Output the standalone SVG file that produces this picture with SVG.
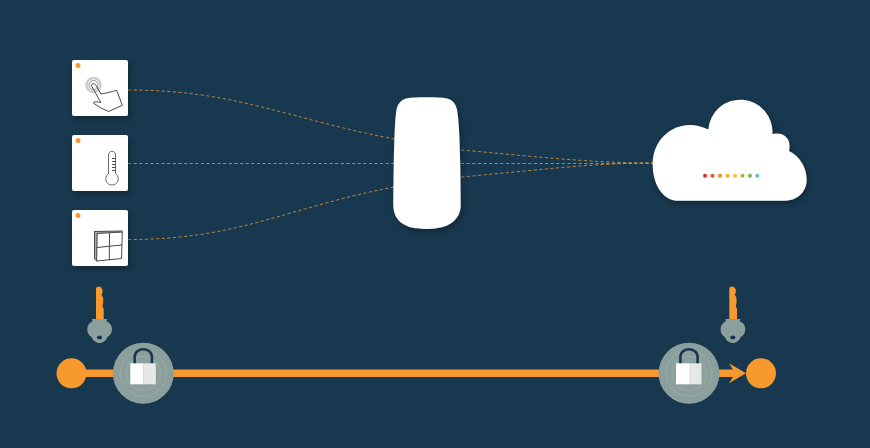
<svg xmlns="http://www.w3.org/2000/svg" width="870" height="448" viewBox="0 0 870 448">
<style>
.card{fill:#fff;filter:url(#sh)}
.dot{fill:#f7992d}
.ico{fill:none;stroke:#4a4a4a;stroke-width:1;stroke-linejoin:round;stroke-linecap:round}
.link{fill:none;stroke:#d08f3e;stroke-width:1;stroke-dasharray:3.2 2.4;stroke-opacity:.85}
.disc{fill:#8b9f9d}
.ring{fill:none;stroke:#9fb0ae;stroke-width:1;stroke-opacity:.7}
.shackle{fill:none;stroke:#18384f;stroke-width:2.6}
.keyb{fill:#f7992d}
</style>
<defs>
<filter id="sh" x="-20%" y="-20%" width="150%" height="150%"><feDropShadow dx="2" dy="3" stdDeviation="3" flood-color="#000" flood-opacity=".3"/></filter>
<g id="lock">
<circle class="disc" r="30.5"/>
<circle class="ring" r="23"/>
<circle class="ring" r="17"/>
<path class="shackle" d="M-8.600 -9V-16.500C-8.600 -26.500 8.600 -26.500 8.600 -16.500V-9"/>
<rect x="-13" y="-10" width="13" height="21" fill="#fff"/>
<rect x="0" y="-10" width="12.500" height="21" fill="#e6e8e8"/>
</g>
<g id="key">
<path class="keyb" d="M96 320V288.500Q96 286.700 98 286.700H100.500L102.500 289.500V292.500L101.500 294.500L103.200 298V303L102.500 306L103.700 309V320Z"/>
<path class="disc" d="M92 319H107L106.500 321.500C110 322.500 112 325.500 112 329.500C112 333 110 335.500 107.500 337C106 340.500 103 343 99.500 343C96 343 93 340.500 91.500 337C89 335.500 87.300 333 87.300 329.500C87.300 325.500 89.500 322.500 92.500 321.500Z"/>
<ellipse cx="99.500" cy="337.500" rx="2.600" ry="2" fill="#18384f"/>
</g>
</defs>
<rect width="870" height="448" fill="#18384f"/>
<g id="connectors">
<path class="link" d="M128 90C235 90 285 118 394 139"/>
<path class="link" d="M128 163.500H394"/>
<path class="link" d="M128 239.500C240 239.500 285 208 394 187"/>
<path class="link" d="M461 150C530 156 590 163 653 163"/>
<path class="link" d="M461 163.500H653"/>
<path class="link" d="M461 177C530 171 590 163 653 163"/>
</g>
<g id="sensor-touch">
<rect class="card" x="72" y="60" width="56" height="56" rx="2"/>
<circle class="dot" cx="78" cy="65.500" r="2.500"/>
<circle cx="93.500" cy="85" r="7" fill="none" stroke="#999" stroke-width="2.500" opacity=".5"/>
<circle cx="93.500" cy="85" r="4.500" fill="none" stroke="#777" stroke-width=".8"/>
<path class="ico" d="M91.500 85.500C91.500 83 95 83 96 85.500L101 94C104 93.500 111 92 116.700 90.300L122.300 105.300L108.500 111.500L101 108L93.300 103C93 101.500 97 101.500 100.500 102.500Z"/>
</g>
<g id="sensor-temp">
<rect class="card" x="72" y="135" width="56" height="56" rx="2"/>
<circle class="dot" cx="78" cy="140.500" r="2.500"/>
<path class="ico" stroke-opacity=".8" d="M108.500 173.500V155C108.500 150 115.500 150 115.500 155V173.500A6.300 6.300 0 1 1 108.500 173.500Z"/>
<path class="ico" d="M112.500 158.500H115.500M112.500 161.500H115.500M112.500 164.500H115.500M112.500 167.500H115.500M112.500 170.500H115.500" stroke-width=".6"/>
</g>
<g id="sensor-window">
<rect class="card" x="72" y="210" width="56" height="56" rx="2"/>
<circle class="dot" cx="78" cy="215.500" r="2.500"/>
<path d="M94.500 231.500L122.500 231L122 232.500L97.500 233.500L97 261L94.500 259Z" fill="#aaa"/>
<path class="ico" stroke="#333" d="M97.500 233.500L122.300 232L121.500 258.500L97 261ZM94.500 231.500L122.300 231M94.500 231.500L94.500 259L97 261M109.500 233L109.300 259.700M97.300 247.500L121.800 245"/>
</g>
<g id="gateway">
<path d="M426.700 97.300C437 97.300 444 97.600 449 99C453 100.500 455.500 104 456.700 108.500C458 114 459 125 459.500 140C460.300 160 460.700 190 460.700 206C460.500 215 455 222 447 225.500C440 228.300 432 229 426.700 229C420 229 411 228.300 406 225.500C398 222 393.500 215 393.300 206C393.300 190 393.700 160 394.300 140C395 125 395.500 114 396.700 108.500C398 104 400.500 100.500 404.500 99C409 97.600 416 97.300 426.700 97.300Z" fill="#fff" filter="url(#sh)"/>
</g>
<g id="cloud">
<path d="M676 200.700C662 199 652.700 184 652.700 164C652.700 141 670 125 690 125C696 125 703 127 708.300 129.500A32 32 0 0 1 772.300 134C776 133 783 133 786 137C790 141 790 146 789 151C800 156 806.700 168 806.700 180C806.700 192 797 200.700 785 200.700Z" fill="#fff" filter="url(#sh)"/>
<circle cx="705" cy="175.700" r="2" fill="#e8262e"/>
<circle cx="712.500" cy="175.700" r="2" fill="#ef4a2b"/>
<circle cx="720" cy="175.700" r="2" fill="#f58220"/>
<circle cx="727.500" cy="175.700" r="2" fill="#f9ae1a"/>
<circle cx="735" cy="175.700" r="2" fill="#e3cf1f"/>
<circle cx="742.500" cy="175.700" r="2" fill="#96bf3c"/>
<circle cx="750" cy="175.700" r="2" fill="#6cb84f"/>
<circle cx="757.300" cy="175.700" r="2" fill="#5cb9ea"/>
</g>
<g id="keys">
<use href="#key"/>
<use href="#key" x="633.300"/>
</g>
<g id="channel">
<path d="M72 369.500H733L729 363.300L746 373.300L729 383.300L733 377H72Z" fill="#f7992d"/>
</g>
<g id="endpoint-start"><circle class="dot" cx="71.500" cy="373.300" r="15"/></g>
<g id="endpoint-end"><circle class="dot" cx="761" cy="373.300" r="15"/></g>
<g id="lock-left"><use href="#lock" x="143.300" y="373.300"/></g>
<g id="lock-right"><use href="#lock" x="689" y="373.300"/></g>
</svg>
